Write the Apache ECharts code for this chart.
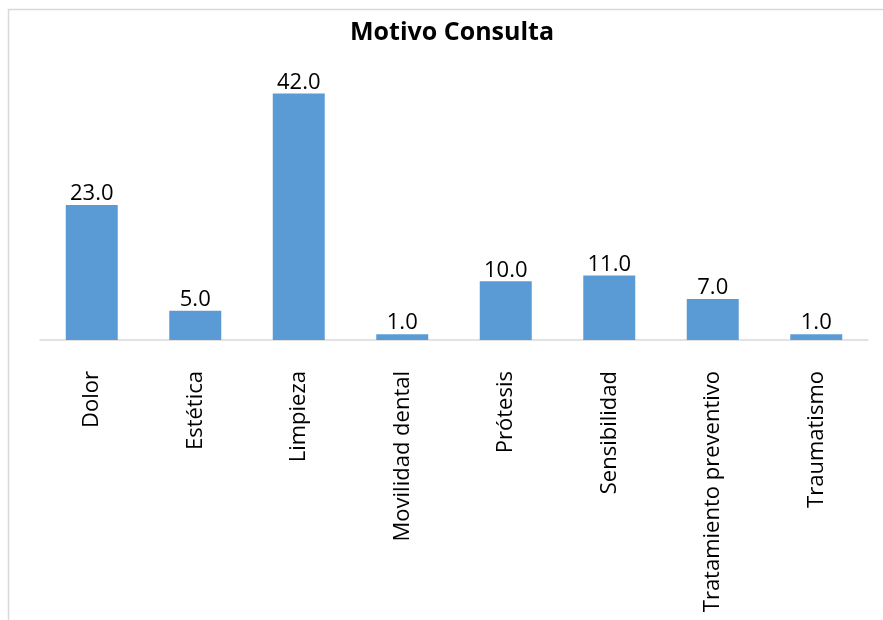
<!DOCTYPE html>
<html><head><meta charset="utf-8">
<script src="https://cdn.jsdelivr.net/npm/echarts@6/dist/echarts.min.js"></script>
<style>html,body{margin:0;padding:0;background:#fff}#c{width:883px;height:620px}</style>
</head><body><div id="c"></div>
<script>
const categories = ["Dolor","Estética","Limpieza","Movilidad dental","Prótesis","Sensibilidad","Tratamiento preventivo","Traumatismo"];
const values = [23,5,42,1,10,11,7,1];
const titleText = "Motivo Consulta";
const FONT = "Open Sans";
const chart = echarts.init(document.getElementById('c'));
chart.setOption({
  backgroundColor:'#fff',
  animation:false,
  title:{text:titleText,left:447,top:15,textAlign:'center',textStyle:{fontFamily:FONT,fontSize:25,fontWeight:'bold',color:'#000'}},
  graphic:[{type:'rect',shape:{x:8.5,y:9.5,width:900,height:700},style:{fill:'none',stroke:'#d9d9d9',lineWidth:1.5},silent:true,z:-1}],
  grid:{left:40,right:15,top:76,bottom:280,containLabel:false},
  xAxis:{type:'category',data:categories,
    axisLine:{lineStyle:{color:'#d9d9d9',width:1.5}},axisTick:{show:false},
    axisLabel:{rotate:90,margin:31,fontFamily:FONT,fontSize:22,color:'#000',interval:0}},
  yAxis:{type:'value',min:0,max:45,show:false,splitLine:{show:false}},
  series:[{type:'bar',data:values,barWidth:52,itemStyle:{color:'#5B9BD5'},
    label:{show:true,position:'top',distance:0,fontFamily:FONT,fontSize:22,color:'#000',formatter:p=>p.value.toFixed(1)}}]
});
</script></body></html>
